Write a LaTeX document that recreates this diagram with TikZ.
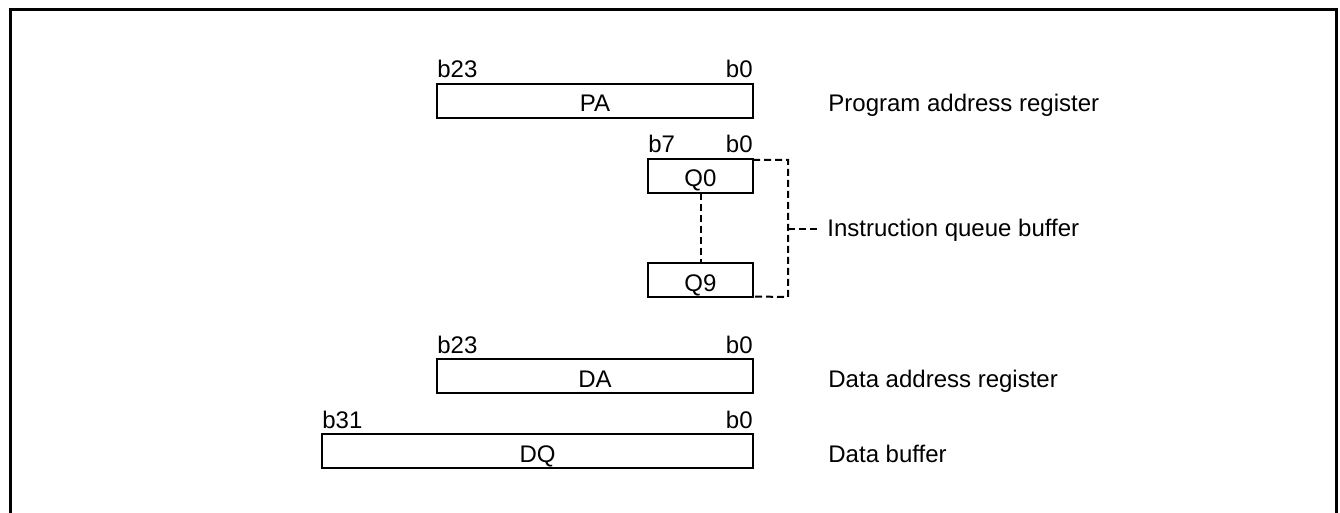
\documentclass[tikz,border=0pt]{standalone}
\usepackage{fontspec}
\setmainfont{Liberation Sans}
\begin{document}
\begin{tikzpicture}[x=0.5pt,y=-0.5pt,
  reg/.style={draw,line width=1pt,inner sep=0pt,outer sep=0pt,minimum height=17pt,text height=11pt,text depth=0pt,font=\fontsize{12}{14}\selectfont},
  bit/.style={inner sep=0pt,font=\fontsize{12}{14}\selectfont},
  desc/.style={anchor=base west,inner sep=0pt,font=\fontsize{12}{14}\selectfont},
  dsh/.style={line width=1pt,dash pattern=on 3.5pt off 2pt}]
\useasboundingbox (0,0) rectangle (1340,513);
\draw[line width=1.5pt] (10,513) -- (10,10) -- (1336,10) -- (1336,513);
% registers
\node[reg,minimum width=158pt] (PA) at (595,101) {PA};
\node[reg,minimum width=52.5pt] (Q0) at (700.5,176) {Q0};
\node[reg,minimum width=52.5pt] (Q9) at (700.5,280.5) {Q9};
\node[reg,minimum width=158pt] (DA) at (595,376.5) {DA};
\node[reg,minimum width=215.5pt] (DQ) at (537.5,451.5) {DQ};
% bit labels
\node[bit,anchor=base west] (pa23) at ([yshift=3pt]PA.north west) {b23};
\node[bit,anchor=base east] (pa0) at ([yshift=3pt]PA.north east) {b0};
\node[bit,anchor=base west] (q7) at ([yshift=3pt]Q0.north west) {b7};
\node[bit,anchor=base east] (q0b) at ([yshift=3pt]Q0.north east) {b0};
\node[bit,anchor=base west] (da23) at ([yshift=3pt]DA.north west) {b23};
\node[bit,anchor=base east] (da0) at ([yshift=3pt]DA.north east) {b0};
\node[bit,anchor=base west] (dq31) at ([yshift=3pt]DQ.north west) {b31};
\node[bit,anchor=base east] (dq0) at ([yshift=3pt]DQ.north east) {b0};
% descriptions
\node[desc] (pal) at (828,112) {Program address register};
\node[anchor=west,inner xsep=4.5pt,inner ysep=0pt,text height=8pt,text depth=0pt,font=\fontsize{12}{14}\selectfont] (iq) at (818,229) {Instruction queue buffer};
\node[desc] (dal) at (828,387.5) {Data address register};
\node[desc] (dql) at (828,462.5) {Data buffer};
% dashed connectors
\draw[dsh] (Q0.south) -- (Q9.north);
\coordinate (bt) at (788,160);
\coordinate (bb) at (788,297);
\coordinate (bm) at (788,229);
\draw[dsh] ([yshift=-0.5pt]Q0.north east) -- (bt) -- (bb) -- ([yshift=0.5pt]Q9.south east);
\draw[dsh] (bm) -- (iq.west);
\end{tikzpicture}
\end{document}
